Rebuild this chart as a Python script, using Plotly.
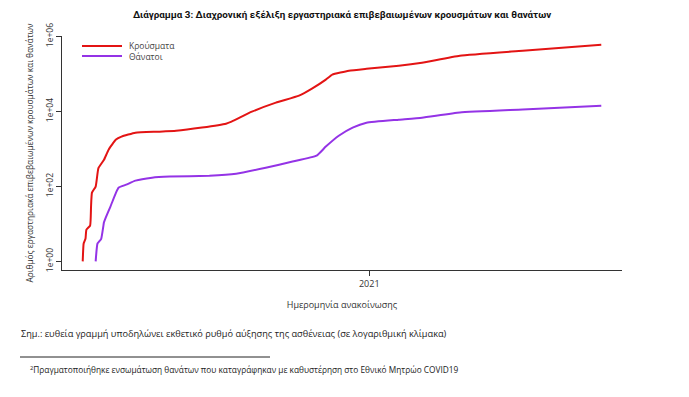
import plotly.graph_objects as go

# Κρούσματα (cases)
cases_dates = ["2020-02-26", "2020-02-27", "2020-02-29", "2020-03-01", "2020-03-05", "2020-03-06",
               "2020-03-07", "2020-03-11", "2020-03-14", "2020-03-20", "2020-03-25", "2020-04-02",
               "2020-04-08", "2020-04-23", "2020-05-18", "2020-06-06", "2020-07-04", "2020-07-30",
               "2020-08-05", "2020-08-27", "2020-09-22", "2020-10-17", "2020-10-31", "2020-11-15",
               "2020-11-22", "2020-12-10", "2020-12-29", "2021-02-02", "2021-02-27", "2021-04-09",
               "2021-06-16", "2021-09-09"]
cases_values = [1, 3, 4, 7, 9, 29, 68, 99, 307, 510, 950, 1770, 2120, 2700, 2870, 3040, 3700, 4700,
                5340, 9800, 17100, 26200, 40300, 70000, 95500, 122000, 137000, 164000, 198000,
                306000, 415000, 600000]

# Θάνατοι (deaths)
deaths_dates = ["2020-03-11", "2020-03-13", "2020-03-17", "2020-03-20", "2020-03-22", "2020-03-27",
                "2020-04-02", "2020-04-05", "2020-04-13", "2020-04-23", "2020-05-11", "2020-05-30",
                "2020-07-12", "2020-08-10", "2020-09-11", "2020-10-10", "2020-11-05", "2020-11-15",
                "2020-11-29", "2020-12-14", "2020-12-29", "2021-02-02", "2021-02-27", "2021-04-09",
                "2021-06-16", "2021-09-09"]
deaths_values = [1, 3, 4, 11, 15, 29, 68, 93, 111, 142, 170, 182, 193, 218, 315, 458, 660, 1150,
                 2240, 3700, 5000, 6000, 6800, 9300, 11200, 14200]

series_names = ["Κρούσματα", "Θάνατοι"]
series_colors = ["#e31414", "#9433e6"]

y_tickvals = [1, 100, 10000, 1000000]
y_ticktext = ["1e+00", "1e+02", "1e+04", "1e+06"]
x_tickvals = ["2021-01-01"]
x_ticktext = ["2021"]

fig = go.Figure()
fig.add_trace(go.Scatter(x=cases_dates, y=cases_values, mode="lines", name=series_names[0],
                         line=dict(color=series_colors[0], width=2, shape="spline", smoothing=0.4)))
fig.add_trace(go.Scatter(x=deaths_dates, y=deaths_values, mode="lines", name=series_names[1],
                         line=dict(color=series_colors[1], width=2, shape="spline", smoothing=0.4)))

font_family = "Open Sans, Noto Sans, DejaVu Sans, sans-serif"

W0, W1, H0, H1 = 62, 622, 36, 270  # plot area in pixels


def px(x):
    return (x - W0) / (W1 - W0)


def py(y):
    return (H1 - y) / (H1 - H0)


fig.update_layout(
    width=689, height=397,
    margin=dict(l=W0, r=689 - W1, t=H0, b=397 - H1, autoexpand=False),
    paper_bgcolor="white", plot_bgcolor="white",
    font=dict(family=font_family, size=9, color="#333"),
    title=dict(text="<b>Διάγραμμα 3: Διαχρονική εξέλιξη εργαστηριακά επιβεβαιωμένων κρουσμάτων και θανάτων</b>",
               x=342 / 689, xanchor="center", y=1 - 15 / 397, yanchor="middle",
               font=dict(size=9.8, color="#111", family="Roboto, Open Sans, sans-serif")),
    showlegend=False,
    xaxis=dict(type="date", range=["2020-02-03 14:00", "2021-10-01 10:00"], automargin=False,
               tickvals=x_tickvals, ticktext=x_ticktext, ticks="outside", ticklen=5,
               tickcolor="#333", showline=True, linecolor="#333", linewidth=1,
               showgrid=False, zeroline=False, tickfont=dict(size=9, color="#333"),
               title=dict(text="Ημερομηνία ανακοίνωσης", font=dict(size=9, color="#333"), standoff=12)),
    yaxis=dict(type="log", range=[-0.23, 6.01], tickvals=y_tickvals, ticktext=y_ticktext,
               automargin=False,
               ticks="outside", ticklen=5, tickcolor="#333", tickangle=-90,
               showline=True, linecolor="#333", linewidth=1, showgrid=False, zeroline=False,
               tickfont=dict(size=8.5, color="#333"),
               title=dict(text="Αριθμός εργαστηριακά επιβεβαιωμένων κρουσμάτων και θανάτων",
                          font=dict(size=8.3, color="#333"), standoff=8)),
)

# legend drawn manually (compact, as in the reference)
for i, (nm, col) in enumerate(zip(series_names, series_colors)):
    yy = 46 + 10 * i
    fig.add_shape(type="line", xref="paper", yref="paper", x0=px(82), x1=px(122),
                  y0=py(yy), y1=py(yy), line=dict(color=col, width=2))
    fig.add_annotation(text=nm, xref="paper", yref="paper", x=px(127), y=py(yy),
                       xanchor="left", yanchor="middle", showarrow=False,
                       font=dict(size=8.5, color="#444"))

fig.add_annotation(text="Σημ.: ευθεία γραμμή υποδηλώνει εκθετικό ρυθμό αύξησης της ασθένειας (σε λογαριθμική κλίμακα)",
                   xref="paper", yref="paper", x=px(19), y=py(333),
                   xanchor="left", yanchor="middle", showarrow=False,
                   font=dict(size=9.2, color="#222"))
fig.add_shape(type="line", xref="paper", yref="paper",
              x0=px(20), x1=px(270), y0=py(357), y1=py(357),
              line=dict(color="#222", width=1))
fig.add_annotation(text="<sup>2</sup>Πραγματοποιήθηκε ενσωμάτωση θανάτων που καταγράφηκαν με καθυστέρηση στο Εθνικό Μητρώο COVID19",
                   xref="paper", yref="paper", x=px(28), y=py(369),
                   xanchor="left", yanchor="middle", showarrow=False,
                   font=dict(size=8.3, color="#222"))

fig.write_html("out.html", config={"displayModeBar": False},
               post_script="document.body.style.margin='0';document.body.style.overflow='hidden';")
